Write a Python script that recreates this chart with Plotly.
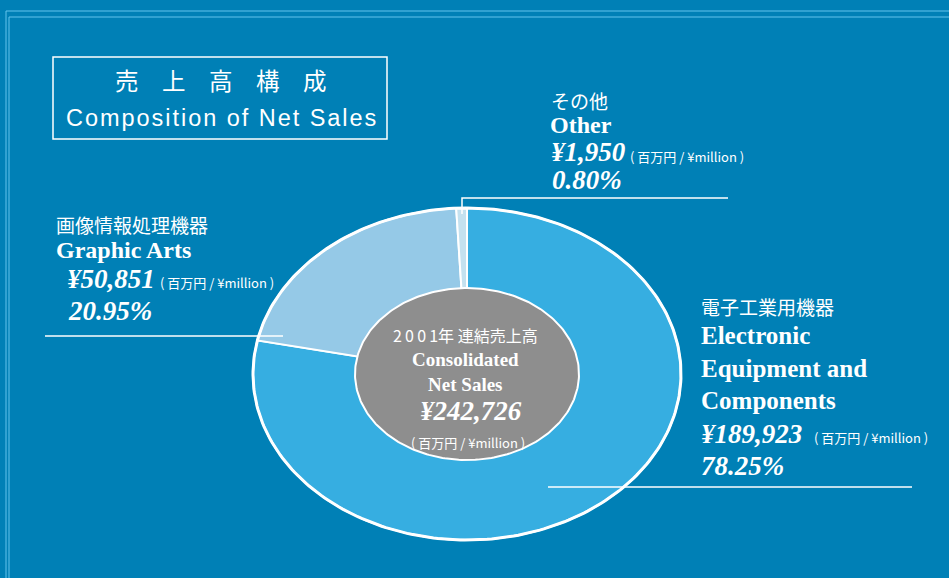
import numpy as np
import plotly.graph_objects as go

# composition of net sales, fiscal 2001 (million yen)
segments_jp = ["電子工業用機器", "画像情報処理機器", "その他"]
segments_en = ["Electronic<br>Equipment and<br>Components", "Graphic Arts", "Other"]
sales = [189923, 50851, 1950]
shares = [78.25, 20.95, 0.80]
total_sales = 242726
year = 2001
unit_label = "( 百万円 / ¥million )"

BG = "#0080b6"
FRAME = "#62c3ec"
slice_colors = ["#36aee1", "#95c9e7", "#c4e1ef"]
GREY = "#8e8e8e"
JP = "Noto Sans CJK JP"
SERIF = "Liberation Serif"

W, H = 949, 578
cx, cy = 467, 374          # donut centre (px)
rx, ry = 214, 166          # outer ellipse radii
irx, iry = 112, 86         # inner (grey) ellipse radii

fig = go.Figure()

# elliptical donut slices, clockwise from 12 o'clock
fracs = np.array(sales) / np.sum(sales)
start = 0.0
for f, col in zip(fracs, slice_colors):
    t = np.linspace(start, start + f, max(int(f * 600), 6)) * 2 * np.pi
    xs = np.concatenate([[cx], cx + rx * np.sin(t), [cx]])
    ys = np.concatenate([[cy], cy - ry * np.cos(t), [cy]])
    fig.add_trace(go.Scatter(x=xs, y=ys, mode="lines", fill="toself",
                             fillcolor=col, line=dict(color="white", width=2),
                             hoverinfo="skip"))
    start += f

# white rim round the outside
t = np.linspace(0, 2 * np.pi, 300)
fig.add_trace(go.Scatter(x=cx + rx * np.sin(t), y=cy - ry * np.cos(t),
                         mode="lines", line=dict(color="white", width=3),
                         hoverinfo="skip"))
fig.add_trace(go.Scatter(x=cx + irx * np.sin(t), y=cy - iry * np.cos(t),
                         mode="lines", fill="toself", fillcolor=GREY,
                         line=dict(color="white", width=2), hoverinfo="skip"))


def label(x, y, text, size, family=SERIF, style="normal", weight="normal",
          xanchor="left"):
    fig.add_annotation(x=x, y=y, text=text, showarrow=False, xanchor=xanchor,
                       yanchor="middle", align=xanchor if xanchor != "center" else "center",
                       borderpad=0,
                       font=dict(family=family, size=size, color="white",
                                 style=style, weight=weight))


def yen(v):
    return f"¥{v:,}"


# other
label(550, 100, segments_jp[2], 19, JP)
label(549, 125, segments_en[2], 24, weight="bold")
label(550, 152, yen(sales[2]), 27, style="italic", weight="bold")
label(629, 156, unit_label, 13, JP)
label(551, 180, f"{shares[2]:.2f}%", 27, style="italic", weight="bold")

# graphic arts
label(55, 224, segments_jp[1], 19, JP)
label(55, 250, segments_en[1], 24, weight="bold")
label(66, 279, yen(sales[1]), 27, style="italic", weight="bold")
label(159, 282, unit_label, 13, JP)
label(67, 311, f"{shares[1]:.2f}%", 27, style="italic", weight="bold")

# electronic equipment
label(700, 306, segments_jp[0], 19, JP)
label(700, 368, segments_en[0], 25, weight="bold")
label(700, 434, yen(sales[0]), 27, style="italic", weight="bold")
label(813, 437, unit_label, 13, JP)
label(700, 466, f"{shares[0]:.2f}%", 27, style="italic", weight="bold")

# centre
label(465, 335, "\u2009".join(str(year)) + "年 連結売上高", 16, JP, xanchor="center")
label(465, 372, "Consolidated<br>Net Sales", 19, weight="bold", xanchor="center")
label(471, 411, yen(total_sales), 27, style="italic", weight="bold", xanchor="center")
label(468, 442, unit_label, 13, JP, xanchor="center")

# title box
label(221, 80, "　".join("売上高構成"), 23.5, JP, xanchor="center")
label(221, 118, "\u200a".join("Composition of Net Sales"), 23.5,
      "Liberation Sans", xanchor="center")

shapes = [
    dict(type="rect", x0=53, y0=57, x1=387, y1=139,
         line=dict(color="white", width=1.5)),
    dict(type="path", path=f"M 6 {H} L 6 11 L {W} 11",
         line=dict(color=FRAME, width=1)),
    dict(type="path", path=f"M 9 {H} L 9 17 L {W} 17",
         line=dict(color=FRAME, width=1)),
    # leader lines
    dict(type="path", path="M 462 214 L 462 198 L 728 198",
         line=dict(color="white", width=1.5)),
    dict(type="line", x0=45, y0=336, x1=283, y1=336,
         line=dict(color="white", width=1.5)),
    dict(type="line", x0=548, y0=487, x1=912, y1=487,
         line=dict(color="white", width=1.5)),
]

fig.update_layout(
    width=W, height=H, margin=dict(l=0, r=0, t=0, b=0),
    paper_bgcolor=BG, plot_bgcolor=BG, showlegend=False,
    xaxis=dict(range=[0, W], visible=False, fixedrange=True),
    yaxis=dict(range=[H, 0], visible=False, fixedrange=True),
    shapes=shapes,
)

fig.write_html("out.html", config={"displayModeBar": False},
               post_script="document.body.style.margin='0';")
